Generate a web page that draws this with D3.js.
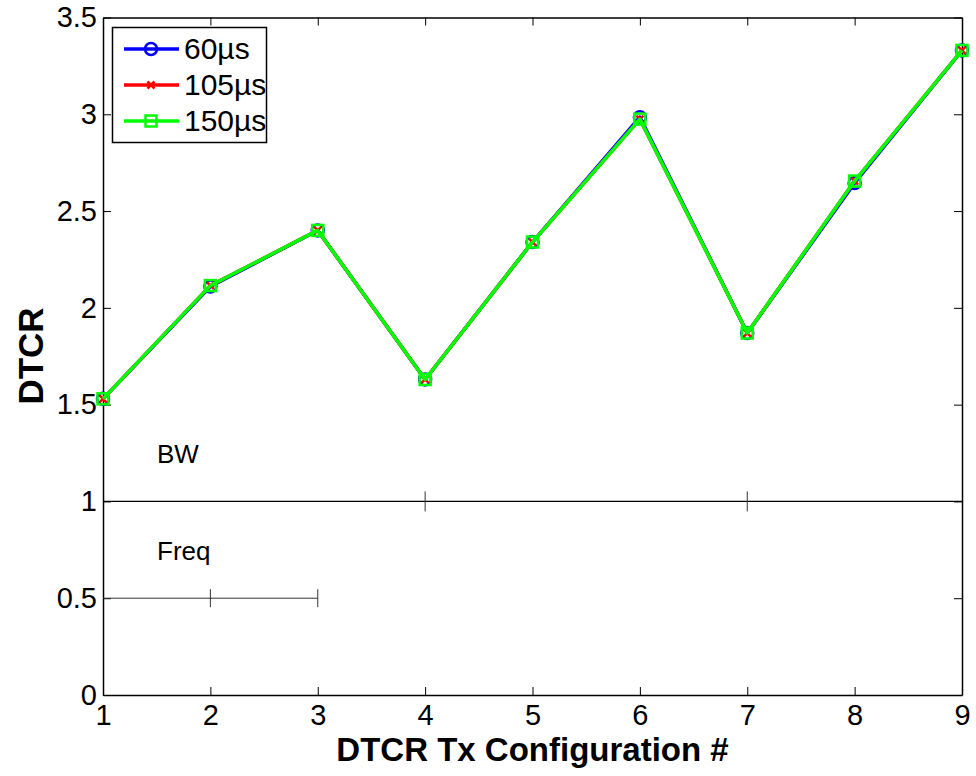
<!DOCTYPE html>
<html>
  <head>
    <title>DTCR</title>
    <meta charset="utf-8">
    <script src='https://d3js.org/d3.v7.min.js'></script>
    <style>
      body { margin: 0; background: #fff; }
      text { font-family: "Liberation Sans", Arial, sans-serif; }
    </style>
  </head>
  <body>
  <div id="svgcontainer"></div>
  <script>
    var width = 976, height = 776;

    // data
    var configs = [1, 2, 3, 4, 5, 6, 7, 8, 9];
    var dtcr60  = [1.53, 2.11, 2.40, 1.63, 2.34, 2.985, 1.87, 2.645, 3.33];
    var dtcr105 = [1.53, 2.115, 2.40, 1.63, 2.34, 2.975, 1.87, 2.655, 3.33];
    var dtcr150 = [1.53, 2.115, 2.40, 1.63, 2.34, 2.975, 1.87, 2.655, 3.33];
    var seriesNames = ['60\u00b5s', '105\u00b5s', '150\u00b5s'];
    var seriesColors = ['#0000ff', '#ff0000', '#00ff00'];
    var seriesMarkers = ['circle', 'cross', 'square'];
    var xTicks = [1, 2, 3, 4, 5, 6, 7, 8, 9];
    var yTicks = [0, 0.5, 1, 1.5, 2, 2.5, 3, 3.5];
    // bracket lines: BW at 1 (ticks at 4, 7), Freq at 0.5 from 1 to 3 (ticks at 2, 3)
    var bwLevel = 1, bwRange = [1, 9], bwTicks = [4, 7];
    var freqLevel = 0.5, freqRange = [1, 3], freqTicks = [2, 3];

    var mLeft = 103, mRight = 962, mTop = 17.5, mBottom = 695;

    var svg = d3.select('#svgcontainer')
      .append('svg')
      .attr('width', width)
      .attr('height', height);

    var x = d3.scaleLinear().domain([1, 9]).range([mLeft, mRight]);
    var y = d3.scaleLinear().domain([0, 3.5]).range([mBottom, mTop]);

    // axes (ticks inside, mirrored on all four sides)
    var tickLen = 8;
    var fmt = function(d) { return d3.format('')(d); };

    svg.append('g')
      .attr('transform', 'translate(0,' + mBottom + ')')
      .call(d3.axisBottom(x).tickValues(xTicks).tickSizeInner(-tickLen).tickSizeOuter(0).tickPadding(9).tickFormat(fmt));
    svg.append('g')
      .attr('transform', 'translate(0,' + mTop + ')')
      .call(d3.axisTop(x).tickValues(xTicks).tickSizeInner(-tickLen).tickSizeOuter(0).tickFormat(''));
    svg.append('g')
      .attr('transform', 'translate(' + mLeft + ',0)')
      .call(d3.axisLeft(y).tickValues(yTicks).tickSizeInner(-tickLen).tickSizeOuter(0).tickPadding(6).tickFormat(fmt));
    svg.append('g')
      .attr('transform', 'translate(' + mRight + ',0)')
      .call(d3.axisRight(y).tickValues(yTicks).tickSizeInner(-tickLen).tickSizeOuter(0).tickFormat(''));

    svg.selectAll('.domain').attr('stroke', '#000').attr('stroke-width', 1.5);
    svg.selectAll('.tick line').attr('stroke', '#000').attr('stroke-width', 1);
    svg.selectAll('.tick text')
      .attr('fill', '#000')
      .style('font-size', '29px')
      .style('font-family', '"Liberation Sans", Arial, sans-serif');

    // BW / Freq bracket lines
    svg.append('line')
      .attr('x1', x(bwRange[0])).attr('x2', x(bwRange[1]))
      .attr('y1', y(bwLevel)).attr('y2', y(bwLevel))
      .attr('stroke', '#000').attr('stroke-width', 1.2);
    svg.selectAll('.bwtick').data(bwTicks).enter().append('line')
      .attr('x1', function(d) { return x(d); }).attr('x2', function(d) { return x(d); })
      .attr('y1', y(bwLevel) - 10).attr('y2', y(bwLevel) + 10)
      .attr('stroke', '#333').attr('stroke-width', 1);
    svg.append('line')
      .attr('x1', x(freqRange[0])).attr('x2', x(freqRange[1]))
      .attr('y1', y(freqLevel)).attr('y2', y(freqLevel))
      .attr('stroke', '#333').attr('stroke-width', 1);
    svg.selectAll('.freqtick').data(freqTicks).enter().append('line')
      .attr('x1', function(d) { return x(d); }).attr('x2', function(d) { return x(d); })
      .attr('y1', y(freqLevel) - 9).attr('y2', y(freqLevel) + 9)
      .attr('stroke', '#333').attr('stroke-width', 1);

    svg.append('text').attr('x', 157).attr('y', 463).text('BW')
      .style('font-size', '26px');
    svg.append('text').attr('x', 157).attr('y', 560).text('Freq')
      .style('font-size', '26px');

    // series
    var series = [dtcr60, dtcr105, dtcr150];
    var line = d3.line()
      .x(function(d, i) { return x(configs[i]); })
      .y(function(d) { return y(d); });

    function drawMarker(g, type, color, cx, cy) {
      if (type === 'circle') {
        g.append('circle').attr('cx', cx).attr('cy', cy).attr('r', 6)
          .attr('fill', 'none').attr('stroke', color).attr('stroke-width', 2.5);
      } else if (type === 'cross') {
        var s = 3.5;
        g.append('path')
          .attr('d', 'M' + (cx - s) + ',' + (cy - s) + 'L' + (cx + s) + ',' + (cy + s) +
                     'M' + (cx - s) + ',' + (cy + s) + 'L' + (cx + s) + ',' + (cy - s))
          .attr('stroke', color).attr('stroke-width', 2.5).attr('fill', 'none');
      } else {
        g.append('rect').attr('x', cx - 5.5).attr('y', cy - 5.5).attr('width', 11).attr('height', 11)
          .attr('fill', 'none').attr('stroke', color).attr('stroke-width', 2.5);
      }
    }

    series.forEach(function(vals, k) {
      var g = svg.append('g');
      g.append('path')
        .datum(vals)
        .attr('d', line)
        .attr('fill', 'none')
        .attr('stroke', seriesColors[k])
        .attr('stroke-width', 3.5)
        .attr('stroke-linejoin', 'round');
      vals.forEach(function(v, i) {
        drawMarker(g, seriesMarkers[k], seriesColors[k], x(configs[i]), y(v));
      });
    });

    // axis titles
    svg.append('text')
      .attr('x', (mLeft + mRight) / 2).attr('y', 761)
      .attr('text-anchor', 'middle')
      .style('font-size', '33px').style('font-weight', 'bold')
      .text('DTCR Tx Configuration #');
    svg.append('text')
      .attr('transform', 'translate(43,' + 356 + ') rotate(-90)')
      .attr('text-anchor', 'middle')
      .style('font-size', '35px').style('font-weight', 'bold')
      .text('DTCR');

    // legend
    var lg = svg.append('g');
    lg.append('rect')
      .attr('x', 112.5).attr('y', 27.5).attr('width', 154).attr('height', 115)
      .attr('fill', '#fff').attr('stroke', '#000').attr('stroke-width', 1.5);
    seriesNames.forEach(function(name, k) {
      var ly = 49 + k * 36;
      lg.append('line').attr('x1', 124).attr('x2', 179).attr('y1', ly).attr('y2', ly)
        .attr('stroke', seriesColors[k]).attr('stroke-width', 3.5);
      drawMarker(lg, seriesMarkers[k], seriesColors[k], 151, ly);
      lg.append('text').attr('x', 184).attr('y', ly + 10).text(name)
        .style('font-size', '30px');
    });
  </script>
  </body>
</html>
